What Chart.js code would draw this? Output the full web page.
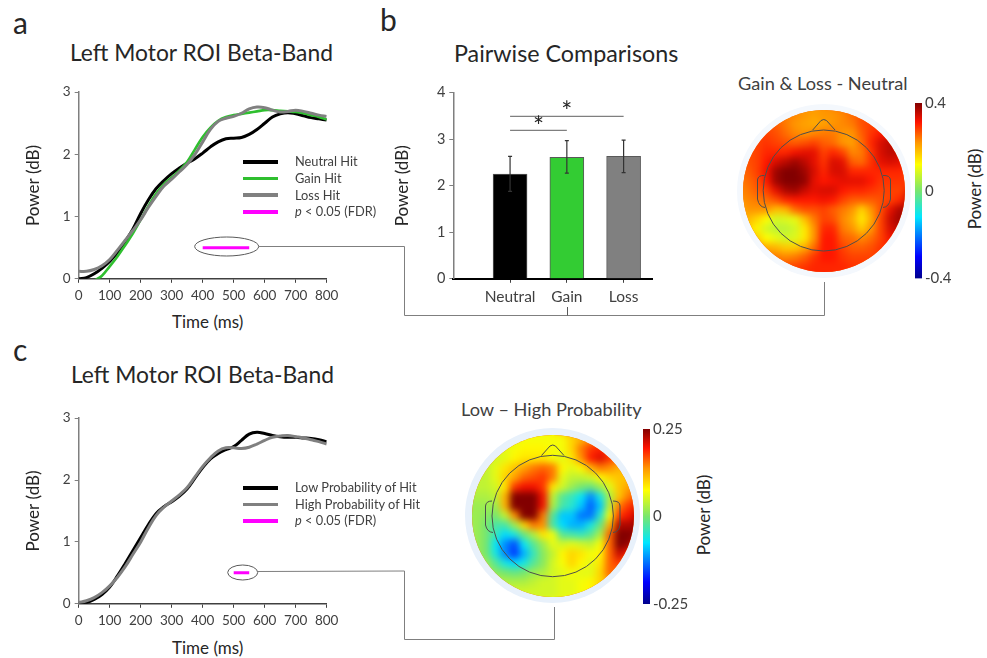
<!DOCTYPE html>
<html><head><meta charset="utf-8">
<script src="https://cdn.jsdelivr.net/npm/chart.js@4"></script>
<style>
html,body{margin:0;padding:0;background:#fff;width:987px;height:658px;overflow:hidden;font-family:Lato,sans-serif;color:#262626}
canvas{position:absolute}
.t{position:absolute;white-space:nowrap;line-height:1}
.rot{position:absolute;white-space:nowrap;line-height:1;font-size:17px;color:#262626;transform:translate(-50%,-50%) rotate(-90deg)}
.leg{position:absolute;white-space:nowrap;font-size:12.8px;color:#404040;line-height:1}
.sw{position:absolute;left:243px;width:35px;height:3.5px}
.ring,.map{position:absolute;border-radius:50%}
.map{overflow:hidden;background:#f60}
.map canvas{filter:blur(3.5px)}
svg{position:absolute;left:0;top:0;pointer-events:none}
</style></head><body>
<div class="t" style="left:13px;top:7px;font-size:30px">a</div>
<div class="t" style="left:380px;top:4px;font-size:30px">b</div>
<div class="t" style="left:13px;top:334px;font-size:30px">c</div>
<div class="t" style="left:70px;top:41px;font-size:22.8px">Left Motor ROI Beta-Band</div>
<div class="t" style="left:454px;top:42px;font-size:23.3px">Pairwise Comparisons</div>
<div class="t" style="left:71px;top:363px;font-size:22.8px">Left Motor ROI Beta-Band</div>
<div class="t" style="left:738px;top:74px;font-size:18.2px;color:#404040">Gain &amp; Loss - Neutral</div>
<div class="t" style="left:461px;top:400px;font-size:18.2px;color:#404040">Low – High Probability</div>
<div class="rot" style="left:974px;top:189px">Power (dB)</div>
<div class="rot" style="left:703px;top:515px">Power (dB)</div>
<div class="t" style="left:172px;top:313px;font-size:17px">Time (ms)</div>
<div class="t" style="left:172px;top:639px;font-size:17px">Time (ms)</div>

<canvas id="ca" width="330" height="252" style="left:21px;top:80px"></canvas>
<canvas id="cb" width="278" height="225" style="left:392px;top:80px"></canvas>
<canvas id="cc" width="330" height="253" style="left:21px;top:406px"></canvas>

<div class="ring" style="left:737px;top:104px;width:174px;height:174px;background:#f4f8fd"></div>
<div class="map" style="left:743px;top:110px;width:162px;height:162px"><canvas id="mapA" width="182" height="182" style="left:-10px;top:-10px"></canvas></div>
<div class="ring" style="left:465px;top:428px;width:175px;height:175px;background:#e8f1fb"></div>
<div class="map" style="left:472px;top:435px;width:162px;height:162px"><canvas id="mapB" width="182" height="182" style="left:-10px;top:-10px"></canvas></div>
<canvas id="barA" width="50" height="200" style="left:915px;top:91px"></canvas>
<canvas id="barB" width="50" height="200" style="left:643px;top:417px"></canvas>

<div class="sw" style="top:160px;background:#000"></div><div class="leg" style="left:295px;top:155px">Neutral Hit</div>
<div class="sw" style="top:176.5px;background:#2fbf2f"></div><div class="leg" style="left:295px;top:172px">Gain Hit</div>
<div class="sw" style="top:193px;background:#808080"></div><div class="leg" style="left:295px;top:189px">Loss Hit</div>
<div class="sw" style="top:210px;background:#ff00ff"></div><div class="leg" style="left:295px;top:205px"><i>p</i> &lt; 0.05 (FDR)</div>
<div class="sw" style="top:486px;background:#000"></div><div class="leg" style="left:295px;top:481px">Low Probability of Hit</div>
<div class="sw" style="top:502.5px;background:#808080"></div><div class="leg" style="left:295px;top:498px">High Probability of Hit</div>
<div class="sw" style="top:519px;background:#ff00ff"></div><div class="leg" style="left:295px;top:514px"><i>p</i> &lt; 0.05 (FDR)</div>

<svg width="987" height="658" fill="none" stroke="#7f7f7f" stroke-width="1">
<ellipse cx="226.7" cy="246.5" rx="32" ry="9.5" stroke="#595959"/>
<polyline points="258.7,246.5 404.5,246.5 404.5,315.5 824.5,315.5 824.5,282"/>
<line x1="567.5" y1="307" x2="567.5" y2="315.5" stroke="#595959"/>
<ellipse cx="242.7" cy="572.5" rx="15" ry="7.5" stroke="#595959"/>
<polyline points="257.7,571.5 404.5,571 404.5,639.5 554.5,639.5 554.5,607"/>
<g stroke="#4d4d4d" stroke-width="1">
<circle cx="823.7" cy="190.5" r="60.5"/>
<path d="M812.7,130 L821,120.5 Q823.7,118.5 826.5,120.5 L835,130"/>
<path d="M764.5,175.5 Q758,175 757.5,180 L757.5,199 Q759,207 765,207.5 M883,175.5 Q890,175 890.5,180 L890.5,199 Q889,207 883,207.5"/>
<circle cx="552.7" cy="516" r="60.7"/>
<path d="M541.5,455.5 L550,446 Q552.7,444 555.5,446 L564,455.5"/>
<path d="M492,501 Q486,501 485.5,506 L485.5,525 Q487,532 493,532.5 M613,501 Q620,501 620,506 L620,525 Q619,532 613,532.5"/>
</g></svg>

<script>
// ---------- data ----------
const times=[0,25,50,75,100,125,150,175,200,225,250,275,300,325,350,375,400,425,450,475,500,525,550,575,600,625,650,675,700,725,750,775,800];
const neutralHit=[0,.02,.08,.17,.28,.42,.6,.8,1.05,1.27,1.45,1.58,1.69,1.78,1.86,1.93,2.02,2.12,2.2,2.25,2.26,2.27,2.32,2.4,2.5,2.6,2.65,2.67,2.65,2.62,2.59,2.57,2.55];
const gainHit=[null,null,-.03,.05,.2,.36,.54,.73,.95,1.17,1.37,1.52,1.63,1.74,1.88,2.08,2.28,2.43,2.54,2.6,2.63,2.65,2.67,2.69,2.71,2.71,2.7,2.69,2.68,2.66,2.63,2.6,2.56];
const lossHit=[.12,.12,.15,.21,.31,.46,.62,.78,.95,1.15,1.33,1.49,1.6,1.72,1.84,2,2.2,2.4,2.53,2.58,2.61,2.66,2.73,2.76,2.75,2.71,2.68,2.69,2.71,2.69,2.66,2.63,2.61];
const lowProb=[.01,.02,.07,.15,.27,.45,.65,.86,1.07,1.28,1.46,1.57,1.65,1.74,1.86,2.03,2.2,2.34,2.43,2.49,2.54,2.64,2.74,2.77,2.75,2.72,2.7,2.69,2.69,2.68,2.67,2.65,2.62];
const highProb=[.02,.05,.1,.18,.29,.43,.6,.8,1,1.23,1.43,1.56,1.66,1.76,1.88,2.05,2.22,2.36,2.47,2.52,2.52,2.51,2.53,2.58,2.64,2.69,2.71,2.72,2.7,2.68,2.65,2.62,2.58];
const sigA=[400,550], sigC=[500,550], sigLevel=0.5;
const timeTicks=[0,100,200,300,400,500,600,700,800];
const barCats=['Neutral','Gain','Loss'];
const barVals=[2.25,2.61,2.63];
const errLow=[1.88,2.27,2.28];
const errHigh=[2.63,2.97,2.98];
const barColors=['#000000','#33cc33','#808080'];
// topographic map cells, dB x 100, rows front to back of the head
const topoA=[
[25,25,25,25,24,23,22,21,22,22,23,25,27,27,27,27,27],
[27,27,27,26,24,22,21,20,21,22,23,24,27,28,28,30,30],
[28,28,28,27,25,23,22,23,24,24,22,22,26,29,31,33,33],
[28,28,29,28,27,26,27,28,26,25,22,21,25,30,34,36,36],
[27,28,30,30,30,32,33,33,28,30,28,23,24,29,34,36,35],
[27,28,31,34,36,38,36,33,29,34,33,26,25,29,33,34,33],
[26,28,32,38,40,40,38,34,30,34,34,30,30,30,30,30,30],
[25,27,31,38,40,40,39,33,31,32,33,33,33,31,29,29,29],
[24,26,28,33,37,38,35,33,34,34,31,30,30,29,28,28,28],
[23,24,25,27,30,31,31,31,32,31,28,26,26,26,27,28,30],
[22,22,22,18,19,25,27,27,28,26,24,22,16,22,27,33,37],
[19,16,12,8,9,10,18,24,28,27,23,20,14,20,28,35,38],
[17,13,8,6,6,8,14,22,30,30,24,22,17,22,28,34,36],
[20,17,12,10,8,9,14,22,31,31,26,25,23,25,28,32,33],
[24,22,20,19,17,17,20,25,31,31,28,26,26,27,29,30,30],
[27,26,25,24,23,24,26,29,31,31,29,28,28,28,29,29,29],
[29,28,28,28,28,28,29,30,30,30,30,29,29,29,29,29,29]];
const topoB=[
[5,5,5,5,6,7,7,7,7,7,10,12,14,16,16,15,12],
[4,5,5,6,7,8,8,8,7,7,10,15,18,19,18,16,14],
[4,4,5,6,8,9,9,9,7,6,9,14,19,21,18,15,12],
[4,4,6,9,11,13,15,16,15,8,6,8,12,15,14,12,11],
[4,4,6,10,13,16,17,18,15,6,4,4,5,8,10,11,11],
[4,4,5,9,18,20,20,18,9,5,2,0,-1,2,6,11,13],
[3,3,4,12,25,25,25,20,4,-2,-4,-7,-12,-6,3,11,15],
[2,2,2,12,25,25,25,20,3,-3,-5,-9,-14,-9,4,15,18],
[2,1,0,4,14,25,25,15,-2,-9,-9,-13,-13,-5,7,18,20],
[2,0,-3,-3,2,10,15,14,-3,-8,-10,-10,-6,-1,12,23,23],
[2,0,-4,-8,-6,-1,3,9,7,-2,-3,-4,-2,3,16,25,25],
[2,0,-7,-12,-15,-7,-2,2,6,5,6,5,4,7,16,25,24],
[2,0,-6,-12,-16,-10,-4,1,4,8,10,9,7,8,16,22,19],
[3,2,-2,-6,-8,-6,-2,1,5,7,10,8,6,9,16,18,14],
[4,3,1,0,-1,0,2,3,5,6,7,6,6,10,16,15,12],
[5,4,4,3,3,3,4,5,5,6,6,7,8,10,13,12,10],
[5,5,5,5,5,5,5,5,5,6,6,7,8,9,10,10,9]];
const rangeA=[-0.4,0,0.4], rangeB=[-0.25,0,0.25];

// ---------- helpers ----------
const FONT='Lato';
const TXT='#404040', AX='#7f7f7f';
Chart.defaults.font.family=FONT;
Chart.defaults.animation=false;
Chart.defaults.responsive=false;
const pts=a=>times.map((t,i)=>({x:t,y:a[i]}));
const line=(a,color,w,order)=>({type:'line',data:pts(a),borderColor:color,borderWidth:w,pointRadius:0,tension:.4,order});
const sig=(r)=>({type:'line',data:r.map(x=>({x,y:sigLevel})),borderColor:'#ff00ff',borderWidth:3,pointRadius:0,order:0});

function lineChart(id,datasets,h,plotBottom){
  return new Chart(document.getElementById(id),{type:'line',data:{datasets},options:{
    layout:{padding:{top:10,right:24.3,left:0,bottom:0}},
    plugins:{legend:{display:false},tooltip:{enabled:false}},
    scales:{
      x:{type:'linear',min:0,max:800,
        afterBuildTicks:s=>{s.ticks=timeTicks.map(v=>({value:v}))},
        afterFit:s=>{s.height=h-plotBottom},
        border:{color:'#404040',width:1.5},
        grid:{drawOnChartArea:false,color:'#404040',tickLength:4},
        ticks:{color:TXT,font:{size:13.5},padding:5,maxRotation:0,autoSkip:false}},
      y:{min:0,max:3,
        afterBuildTicks:s=>{s.ticks=[0,1,2,3].map(v=>({value:v}))},
        afterFit:s=>{s.width=57.7},
        border:{color:AX,width:1.5},
        grid:{drawOnChartArea:false,color:AX,tickLength:4},
        ticks:{color:TXT,font:{size:13.5},padding:4},
        title:{display:true,text:'Power (dB)',color:'#262626',font:{size:17},padding:{top:2,bottom:0}}}
    }}});
}
lineChart('ca',[line(neutralHit,'#000',3,3),line(gainHit,'#2fbf2f',2.6,2),line(lossHit,'#808080',3,1),sig(sigA)],252,198.8);
lineChart('cc',[line(lowProb,'#000',3,2),line(highProb,'#808080',3,1),sig(sigC)],253,197.8);

// ---------- bars ----------
const barExtras={id:'barExtras',afterDatasetsDraw(c){
  const {ctx,scales:{x,y}}=c;ctx.save();ctx.strokeStyle='#333';ctx.lineWidth=1.2;
  barVals.forEach((v,i)=>{const px=x.getPixelForValue(i+1);
    const p=y.getPixelForValue(errLow[i]),q=y.getPixelForValue(errHigh[i]);
    ctx.beginPath();ctx.moveTo(px,p);ctx.lineTo(px,q);
    ctx.moveTo(px-2,p);ctx.lineTo(px+2,p);ctx.moveTo(px-2,q);ctx.lineTo(px+2,q);ctx.stroke();});
  ctx.fillStyle='#262626';ctx.font='26px '+FONT;ctx.textAlign='center';ctx.textBaseline='middle';
  ctx.fillText('*',x.getPixelForValue(1.5),y.getPixelForValue(3.25));
  ctx.fillText('*',x.getPixelForValue(2),y.getPixelForValue(3.58));
  ctx.restore();}};
new Chart(document.getElementById('cb'),{type:'bar',data:{datasets:[
  {type:'bar',data:barVals.map((v,i)=>({x:i+1,y:v})),backgroundColor:barColors,borderColor:'#595959',borderWidth:1,barThickness:34,order:2},
  {type:'line',data:[{x:1,y:3.19},{x:2,y:3.19}],borderColor:'#7f7f7f',borderWidth:1.2,pointRadius:0,order:1},
  {type:'line',data:[{x:1,y:3.49},{x:3,y:3.49}],borderColor:'#7f7f7f',borderWidth:1.2,pointRadius:0,order:1}
]},plugins:[barExtras],options:{
  layout:{padding:{top:8.5,right:18,left:0,bottom:0}},
  plugins:{legend:{display:false},tooltip:{enabled:false}},
  scales:{
    x:{type:'linear',min:0,max:3.5,offset:false,
      afterBuildTicks:s=>{s.ticks=[1,2,3].map(v=>({value:v}))},
      afterFit:s=>{s.height=225-198.8},
      border:{color:'#000',width:2},
      grid:{drawOnChartArea:false,offset:false,color:'#404040',tickLength:4},
      ticks:{color:TXT,font:{size:15.5},padding:5,maxRotation:0,autoSkip:false,callback:v=>barCats[v-1]}},
    y:{min:0,max:4,
      afterBuildTicks:s=>{s.ticks=[0,1,2,3,4].map(v=>({value:v}))},
      afterFit:s=>{s.width=61.3},
      border:{color:AX,width:1.5},
      grid:{drawOnChartArea:false,color:AX,tickLength:4},
      ticks:{color:TXT,font:{size:14.5},padding:4},
      title:{display:true,text:'Power (dB)',color:'#262626',font:{size:17},padding:0}}
  }}});

// ---------- topographic maps ----------
function jet(t){
  const s=[[-1,0,0,140],[-.75,0,0,255],[-.3,0,230,255],[0,120,230,110],[.3,255,255,0],[.55,255,150,0],[.78,255,20,0],[1,130,0,0]];
  t=Math.max(-1,Math.min(1,t));
  for(let i=1;i<s.length;i++) if(t<=s[i][0]){const a=s[i-1],b=s[i],f=(t-a[0])/(b[0]-a[0]);
    return `rgb(${a.slice(1).map((v,k)=>Math.round(v+(b[k+1]-v)*f)).join(',')})`;}
}
function topo(id,grid,maxV){
  const n=grid.length,cell=162/n,pad=10/cell;
  const cells=[];grid.forEach((row,r)=>row.forEach((v,c)=>cells.push({x:c,y:r,v:v/100})));
  const edge=cells.filter(p=>p.x===0||p.y===0||p.x===n-1||p.y===n-1);
  const color=ctx=>jet((ctx.raw?ctx.raw.v:0)/maxV);
  new Chart(document.getElementById(id),{type:'scatter',data:{datasets:[
    {data:cells,backgroundColor:color,pointStyle:'rect',pointRadius:(cell+1)*Math.SQRT1_2,pointBorderWidth:0,borderWidth:0,order:1,clip:false},
    {data:edge,backgroundColor:color,pointStyle:'rect',pointRadius:(cell+1)*Math.SQRT1_2*3.5,pointBorderWidth:0,borderWidth:0,order:2,clip:false}
  ]},options:{
    layout:{padding:0,autoPadding:false},
    plugins:{legend:{display:false},tooltip:{enabled:false}},
    scales:{x:{type:'linear',display:false,min:-.5-pad,max:n-.5+pad},y:{type:'linear',display:false,reverse:true,min:-.5-pad,max:n-.5+pad}}
  }});
}
topo('mapA',topoA,.4);
topo('mapB',topoB,.25);

function colorbar(id,range,topPad,axisW){
  new Chart(document.getElementById(id),{type:'bar',data:{labels:[''],datasets:[{
    data:[[range[0],range[2]]],barPercentage:1,categoryPercentage:1,
    backgroundColor:c=>{const a=c.chart.chartArea;if(!a)return '#000';
      const g=c.chart.ctx.createLinearGradient(0,a.bottom,0,a.top);
      [[-1,'#00008c'],[-.75,'#0000ff'],[-.3,'#00e6ff'],[0,'#78e66e'],[.3,'#ffff00'],[.55,'#ff9600'],[.78,'#ff1400'],[1,'#820000']].forEach(([t,col])=>g.addColorStop((t+1)/2,col));
      return g;}
  }]},options:{
    layout:{padding:{top:topPad,bottom:200-topPad-175.5,left:0,right:0}},
    plugins:{legend:{display:false},tooltip:{enabled:false}},
    scales:{
      x:{display:false},
      y:{position:'right',min:range[0],max:range[2],
        afterBuildTicks:s=>{s.ticks=range.map(v=>({value:v}))},
        afterFit:s=>{s.width=axisW},
        border:{display:false},grid:{display:false,drawTicks:false,tickLength:0},
        ticks:{color:TXT,font:{size:15},padding:3,callback:v=>String(v)}}
    }}});
}
colorbar('barA',rangeA,12,43);
colorbar('barB',rangeB,11.5,43);
</script>
</body></html>
